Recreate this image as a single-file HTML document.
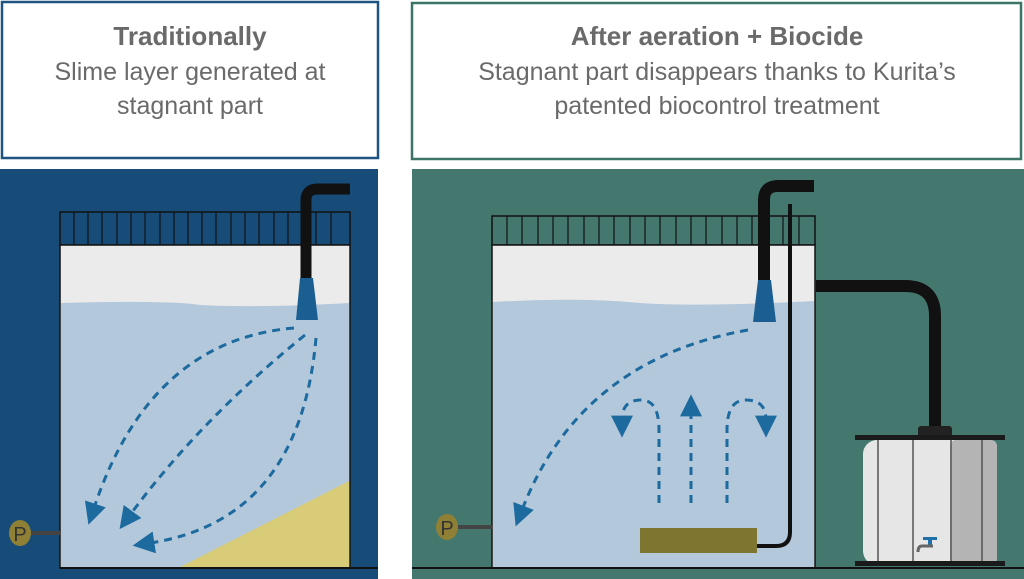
<!DOCTYPE html>
<html><head><meta charset="utf-8"><style>
html,body{margin:0;padding:0;background:#fff;width:1024px;height:579px;overflow:hidden}
svg{display:block}
text{font-family:"Liberation Sans",sans-serif;fill:#6a6a6a;text-anchor:middle}
</style></head><body>
<svg width="1024" height="579" viewBox="0 0 1024 579" xmlns="http://www.w3.org/2000/svg">
<defs>
<marker id="ah2" viewBox="0 0 10 10" refX="2" refY="5" markerWidth="22" markerHeight="22" orient="auto" markerUnits="userSpaceOnUse">
<path d="M0,0 L10,5 L0,10 z" fill="#1c6a9e"/></marker>
</defs>
<rect x="2" y="2" width="376" height="156" fill="#fff" stroke="#1e5382" stroke-width="2.5"/>
<text x="190" y="45" font-size="26" font-weight="bold">Traditionally</text>
<text x="190" y="80" font-size="25">Slime layer generated at</text>
<text x="190" y="114" font-size="25">stagnant part</text>
<rect x="412" y="3" width="609" height="156" fill="#fff" stroke="#3c7568" stroke-width="2.5"/>
<text x="717" y="45" font-size="26" font-weight="bold">After aeration + Biocide</text>
<text x="717" y="80" font-size="25">Stagnant part disappears thanks to Kurita’s</text>
<text x="717" y="114" font-size="25">patented biocontrol treatment</text>

<rect x="0" y="169" width="378" height="410" fill="#174c78"/>
<rect x="60" y="212" width="290" height="33" fill="none" stroke="#111" stroke-width="1.5"/>
<g stroke="#111" stroke-width="1.2">
<line x1="74" y1="212" x2="74" y2="245"/><line x1="88" y1="212" x2="88" y2="245"/><line x1="102" y1="212" x2="102" y2="245"/><line x1="117" y1="212" x2="117" y2="245"/><line x1="131" y1="212" x2="131" y2="245"/><line x1="145" y1="212" x2="145" y2="245"/><line x1="160" y1="212" x2="160" y2="245"/><line x1="174" y1="212" x2="174" y2="245"/><line x1="188" y1="212" x2="188" y2="245"/><line x1="202" y1="212" x2="202" y2="245"/><line x1="216" y1="212" x2="216" y2="245"/><line x1="231" y1="212" x2="231" y2="245"/><line x1="245" y1="212" x2="245" y2="245"/><line x1="259" y1="212" x2="259" y2="245"/><line x1="274" y1="212" x2="274" y2="245"/><line x1="288" y1="212" x2="288" y2="245"/><line x1="302" y1="212" x2="302" y2="245"/><line x1="316" y1="212" x2="316" y2="245"/><line x1="331" y1="212" x2="331" y2="245"/>
</g>
<rect x="60" y="245" width="290" height="323" fill="#ebebeb" stroke="#111" stroke-width="1.5"/>
<path d="M61,303 Q170,300 200,305 Q260,308 349,303 L349,567 L61,567 z" fill="#b4c8dc"/>
<path d="M180,567 L349,481 L349,567 z" fill="#d8cc78"/>
<path d="M306,280 L306,200 Q306,189 318,189 L350,189" fill="none" stroke="#111" stroke-width="11"/>
<path d="M300,278 L313,278 L318,320 L296,320 z" fill="#1b5f92"/>
<line x1="60" y1="568" x2="378" y2="568" stroke="#111" stroke-width="2"/>
<line x1="30" y1="533" x2="60" y2="533" stroke="#444" stroke-width="4"/>
<ellipse cx="20" cy="533" rx="11" ry="13" fill="#8f8036"/>
<text x="20" y="541" font-size="20" style="fill:#333">P</text>
<g fill="none" stroke="#1c6a9e" stroke-width="3" stroke-dasharray="8,6">
<path d="M294,328 Q150,340 94,508" marker-end="url(#ah2)"/>
<path d="M305,335 Q200,420 130,515" marker-end="url(#ah2)"/>
<path d="M316,338 Q300,520 150,543" marker-end="url(#ah2)"/>
</g>

<rect x="412" y="169" width="612" height="410" fill="#44786f"/>
<rect x="492" y="216" width="323" height="29" fill="none" stroke="#111" stroke-width="1.5"/>
<g stroke="#111" stroke-width="1.2">
<line x1="507" y1="216" x2="507" y2="245"/><line x1="522" y1="216" x2="522" y2="245"/><line x1="538" y1="216" x2="538" y2="245"/><line x1="553" y1="216" x2="553" y2="245"/><line x1="568" y1="216" x2="568" y2="245"/><line x1="584" y1="216" x2="584" y2="245"/><line x1="599" y1="216" x2="599" y2="245"/><line x1="614" y1="216" x2="614" y2="245"/><line x1="630" y1="216" x2="630" y2="245"/><line x1="645" y1="216" x2="645" y2="245"/><line x1="660" y1="216" x2="660" y2="245"/><line x1="676" y1="216" x2="676" y2="245"/><line x1="691" y1="216" x2="691" y2="245"/><line x1="706" y1="216" x2="706" y2="245"/><line x1="722" y1="216" x2="722" y2="245"/><line x1="737" y1="216" x2="737" y2="245"/><line x1="752" y1="216" x2="752" y2="245"/><line x1="768" y1="216" x2="768" y2="245"/><line x1="783" y1="216" x2="783" y2="245"/><line x1="799" y1="216" x2="799" y2="245"/>
</g>
<rect x="492" y="245" width="323" height="323" fill="#ebebeb" stroke="#111" stroke-width="1.5"/>
<path d="M493,302 Q580,297 640,303 Q700,307 814,301 L814,567 L493,567 z" fill="#b4c8dc"/>
<path d="M816,286 L905,286 Q935,286 935,316 L935,432" fill="none" stroke="#111" stroke-width="12"/>
<rect x="918" y="426" width="34" height="12" rx="3" fill="#222"/>
<path d="M764,280 L764,200 Q764,186 778,186 L814,186" fill="none" stroke="#111" stroke-width="12"/>
<path d="M758,280 L771,280 L776,322 L753,322 z" fill="#1b5f92"/>
<path d="M790,204 L790,532 Q790,546 776,546 L757,546" fill="none" stroke="#111" stroke-width="4"/>
<rect x="640" y="528" width="117" height="25" fill="#7d7530"/>
<rect x="855" y="435" width="150" height="5" fill="#1a1a1a"/>
<rect x="863" y="440" width="134" height="125" rx="14" fill="#e6e6e6"/>
<rect x="950" y="440" width="47" height="125" rx="6" fill="#b4b4b4"/>
<g stroke="#555" stroke-width="1.5"><line x1="878" y1="440" x2="878" y2="565"/><line x1="913" y1="440" x2="913" y2="565"/><line x1="951" y1="440" x2="951" y2="565"/><line x1="982" y1="440" x2="982" y2="565"/></g>
<rect x="855" y="561" width="150" height="5" fill="#1a1a1a"/>
<rect x="923" y="537" width="14" height="3" fill="#1f6fa8"/><rect x="928" y="538" width="4" height="8" fill="#1f6fa8"/>
<path d="M933,546 L922,546 Q918,546 918,552" fill="none" stroke="#666" stroke-width="3"/>
<line x1="412" y1="568" x2="1024" y2="568" stroke="#111" stroke-width="2"/>
<line x1="458" y1="527" x2="492" y2="527" stroke="#444" stroke-width="4"/>
<ellipse cx="447" cy="527" rx="11" ry="13" fill="#8f8036"/>
<text x="447" y="535" font-size="20" style="fill:#333">P</text>
<g fill="none" stroke="#1c6a9e" stroke-width="3" stroke-dasharray="8,6">
<path d="M748,330 Q580,360 522,510" marker-end="url(#ah2)"/>
<path d="M659,503 L659,430 Q659,400 641,400 Q622,400 622,420" marker-end="url(#ah2)"/>
<path d="M691,503 L691,412" marker-end="url(#ah2)"/>
<path d="M727,503 L727,430 Q727,400 746,400 Q766,400 766,420" marker-end="url(#ah2)"/>
</g>
</svg>
</body></html>
